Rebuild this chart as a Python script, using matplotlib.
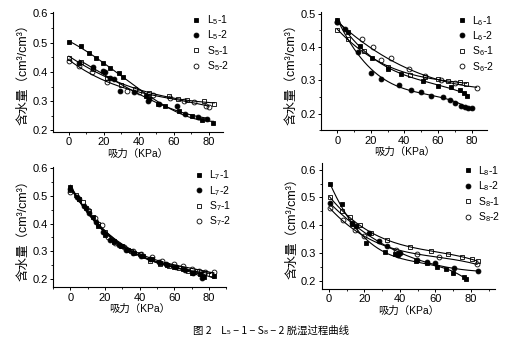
import numpy as np
import matplotlib.pyplot as plt
from matplotlib.ticker import MultipleLocator

plt.rcParams['font.family'] = ['Liberation Sans', 'Noto Sans CJK SC', 'DejaVu Sans']
plt.rcParams['mathtext.fontset'] = 'custom'
plt.rcParams['mathtext.rm'] = 'Liberation Sans'

# ---- Panel 1: L5 / S5 ----
l5_1_x = [0, 7, 11.4, 15.5, 19.7, 23.7, 28.8, 31, 44, 50.6, 55, 63, 70.5, 76.2, 82.5]
l5_1_y = [0.501, 0.487, 0.465, 0.448, 0.431, 0.413, 0.397, 0.383, 0.316, 0.291, 0.282, 0.268, 0.248, 0.235, 0.226]
l5_2_x = [6, 14, 19.3, 20.8, 23.5, 25.6, 29.4, 37.3, 45.3, 45.9, 51.6, 62, 66.4, 73.7, 79]
l5_2_y = [0.431, 0.417, 0.403, 0.400, 0.380, 0.376, 0.336, 0.330, 0.301, 0.307, 0.291, 0.282, 0.256, 0.246, 0.239]
s5_1_x = [0, 7, 14, 22, 30, 38, 46, 57, 62.4, 67.7, 77, 83]
s5_1_y = [0.447, 0.434, 0.410, 0.380, 0.355, 0.340, 0.328, 0.316, 0.308, 0.305, 0.299, 0.291]
s5_2_x = [0, 6, 13, 22, 33, 40, 48, 58, 66, 71.5, 78, 80]
s5_2_y = [0.436, 0.419, 0.398, 0.366, 0.336, 0.330, 0.320, 0.310, 0.302, 0.297, 0.285, 0.280]

# ---- Panel 2: L6 / S6 ----
l6_1_x = [0, 6.6, 13.5, 21, 30.5, 38, 51, 60, 67.5, 73, 75.8, 77.4]
l6_1_y = [0.480, 0.446, 0.402, 0.367, 0.335, 0.320, 0.298, 0.284, 0.279, 0.271, 0.261, 0.252]
l6_2_x = [0, 4.6, 12.2, 20, 26, 37, 44, 50, 56, 63, 67, 70, 74, 76, 78, 80]
l6_2_y = [0.475, 0.454, 0.385, 0.322, 0.305, 0.285, 0.272, 0.264, 0.254, 0.249, 0.241, 0.233, 0.222, 0.220, 0.218, 0.216]
s6_1_x = [0, 6.6, 16, 30, 43.5, 52, 60, 66, 73, 77]
s6_1_y = [0.451, 0.424, 0.387, 0.340, 0.315, 0.310, 0.305, 0.298, 0.296, 0.288]
s6_2_x = [0, 14.6, 21.5, 26, 32, 42.5, 52, 62, 70.4, 83]
s6_2_y = [0.475, 0.424, 0.400, 0.360, 0.367, 0.333, 0.313, 0.300, 0.293, 0.277]

# ---- Panel 3: L7 / S7 ----
l7_1_x = [0, 5, 9, 13, 16, 20, 25, 29, 33, 37, 42, 47, 52, 56, 60, 65, 70, 75, 77, 83]
l7_1_y = [0.533, 0.490, 0.458, 0.425, 0.390, 0.360, 0.335, 0.318, 0.305, 0.292, 0.282, 0.270, 0.258, 0.250, 0.243, 0.234, 0.222, 0.218, 0.206, 0.210]
l7_2_x = [0, 4, 8, 11, 15, 19, 23, 28, 32, 36, 41, 46, 51, 55, 61, 66, 71, 76]
l7_2_y = [0.525, 0.495, 0.465, 0.440, 0.405, 0.370, 0.340, 0.322, 0.306, 0.295, 0.283, 0.272, 0.262, 0.254, 0.243, 0.233, 0.222, 0.203]
s7_1_x = [0, 3, 7, 11, 16, 20, 25, 30, 35, 40, 46, 52, 57, 63, 68, 73, 77, 81]
s7_1_y = [0.520, 0.505, 0.478, 0.445, 0.398, 0.368, 0.338, 0.318, 0.302, 0.290, 0.263, 0.255, 0.248, 0.238, 0.230, 0.228, 0.222, 0.218]
s7_2_x = [0, 5, 10, 14, 18, 22, 26, 31, 36, 41, 47, 53, 60, 65, 70, 74, 78, 83]
s7_2_y = [0.515, 0.490, 0.450, 0.420, 0.395, 0.350, 0.330, 0.315, 0.302, 0.290, 0.278, 0.265, 0.255, 0.245, 0.236, 0.230, 0.225, 0.223]

# ---- Panel 4: L8 / S8 ----
l8_1_x = [0.4, 7.4, 13, 21, 31.5, 37, 49, 55, 61, 66, 70, 76, 77.5]
l8_1_y = [0.549, 0.477, 0.405, 0.334, 0.304, 0.295, 0.270, 0.262, 0.250, 0.240, 0.226, 0.214, 0.207]
l8_2_x = [0.4, 13, 15, 22.5, 28, 33, 39, 40, 49.4, 55, 60, 70.6, 83.8]
l8_2_y = [0.479, 0.408, 0.396, 0.370, 0.342, 0.324, 0.294, 0.298, 0.275, 0.268, 0.262, 0.244, 0.233]
s8_1_x = [0.4, 7.4, 12, 17.4, 23.6, 33, 45.7, 57.4, 67, 75, 80.6, 83.8]
s8_1_y = [0.503, 0.450, 0.429, 0.400, 0.373, 0.346, 0.322, 0.306, 0.297, 0.286, 0.276, 0.270]
s8_2_x = [0.4, 8, 14.5, 20, 38, 49.4, 62, 83.4]
s8_2_y = [0.461, 0.417, 0.381, 0.360, 0.312, 0.295, 0.285, 0.258]

panels = [
    dict(pos=[0.100, 0.621, 0.320, 0.345], ylim=(0.195, 0.605), xlim=(-9, 88), yticks=[0.2, 0.3, 0.4, 0.5, 0.6],
         n='5', series=[(l5_1_x, l5_1_y), (l5_2_x, l5_2_y), (s5_1_x, s5_1_y), (s5_2_x, s5_2_y)]),
    dict(pos=[0.605, 0.626, 0.313, 0.339], ylim=(0.15, 0.505), xlim=(-9.5, 89.5), yticks=[0.2, 0.3, 0.4, 0.5],
         n='6', series=[(l6_1_x, l6_1_y), (l6_2_x, l6_2_y), (s6_1_x, s6_1_y), (s6_2_x, s6_2_y)]),
    dict(pos=[0.100, 0.175, 0.326, 0.345], ylim=(0.17, 0.605), xlim=(-10, 90), yticks=[0.2, 0.3, 0.4, 0.5, 0.6],
         n='7', series=[(l7_1_x, l7_1_y), (l7_2_x, l7_2_y), (s7_1_x, s7_1_y), (s7_2_x, s7_2_y)]),
    dict(pos=[0.606, 0.170, 0.326, 0.362], ylim=(0.17, 0.625), xlim=(-4, 93.5), yticks=[0.2, 0.3, 0.4, 0.5, 0.6],
         n='8', series=[(l8_1_x, l8_1_y), (l8_2_x, l8_2_y), (s8_1_x, s8_1_y), (s8_2_x, s8_2_y)]),
]

markers = [('s', 'k'), ('o', 'k'), ('s', 'none'), ('o', 'none')]

fig = plt.figure(figsize=(5.31, 3.48), dpi=100)

for p in panels:
    ax = fig.add_axes(p['pos'])
    names = ['L$_{%s}$-1' % p['n'], 'L$_{%s}$-2' % p['n'], 'S$_{%s}$-1' % p['n'], 'S$_{%s}$-2' % p['n']]
    for (x, y), (mk, fc), name in zip(p['series'], markers, names):
        x = np.array(x)
        y = np.array(y)
        # fitted curve through the measured points
        c = np.polyfit(x, y, 3)
        xs = np.linspace(x.min(), x.max(), 200)
        ax.plot(xs, np.polyval(c, xs), color='k', lw=0.8)
        ax.plot(x, y, ls='none', marker=mk, ms=3.5, mfc=fc, mec='k', mew=0.6, label=name)
    ax.set_xlim(*p['xlim'])
    ax.set_ylim(*p['ylim'])
    ax.set_xticks([0, 20, 40, 60, 80])
    ax.set_yticks(p['yticks'])
    ax.xaxis.set_minor_locator(MultipleLocator(10))
    ax.yaxis.set_minor_locator(MultipleLocator(0.05))
    ax.spines['top'].set_visible(False)
    ax.spines['right'].set_visible(False)
    ax.tick_params(direction='out', length=2.5, width=0.7, labelsize=8, pad=1.5)
    ax.tick_params(which='minor', length=1.5, width=0.6)
    ax.set_xlabel('吸力（KPa）', fontsize=7.5, labelpad=1)
    ax.set_ylabel('含水量（cm³/cm³）', fontsize=9, labelpad=2)
    ax.legend(loc='upper left', bbox_to_anchor=(0.77, 1.04), frameon=False, fontsize=7.5,
              handletextpad=0.4, labelspacing=0.15, handlelength=1.2, borderaxespad=0.2)

fig.text(0.51, 0.05, '图 2    L₅ − 1 − S₈ − 2 脱湿过程曲线', ha='center', va='center', fontsize=7.5,
         family=['Noto Sans CJK SC', 'DejaVu Sans'])

fig.savefig('out.png', dpi=100)
